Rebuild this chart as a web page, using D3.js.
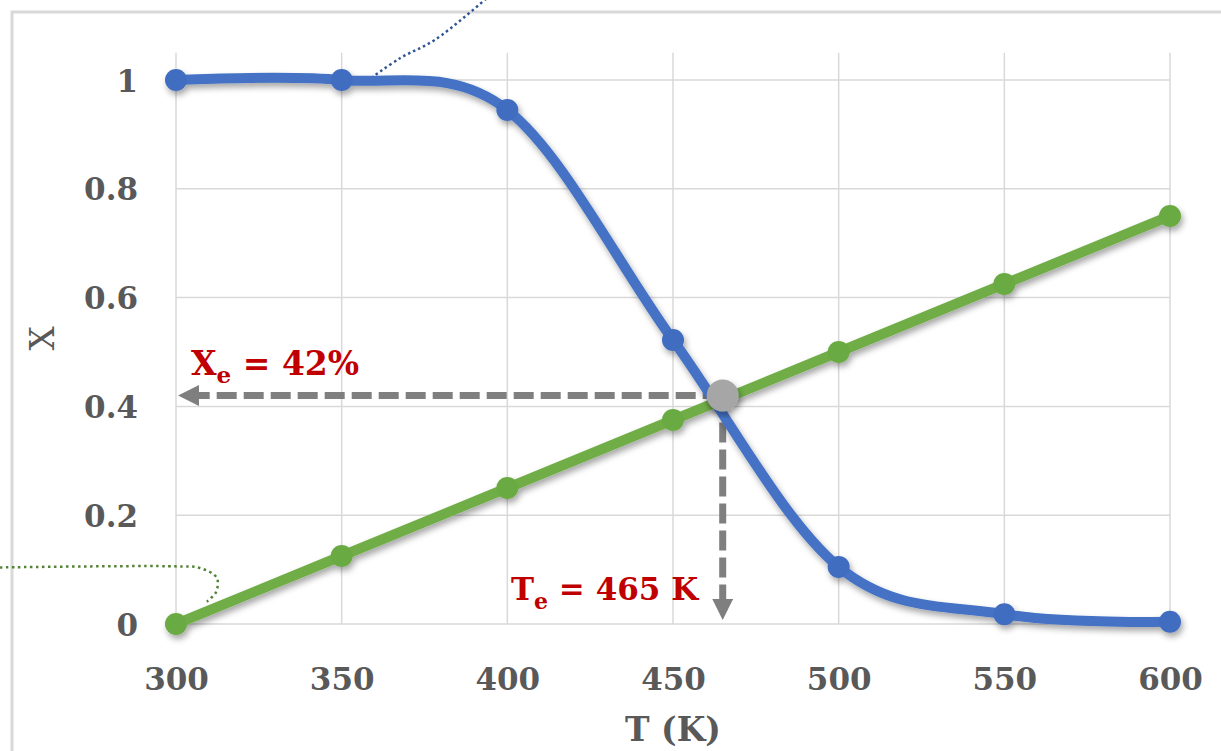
<!DOCTYPE html>
<html>
<head>
<meta charset="utf-8">
<script src="https://cdn.jsdelivr.net/npm/d3@7"></script>
<style>
  html, body { margin: 0; padding: 0; background: #fff; }
  svg { display: block; }
</style>
</head>
<body>
<svg id="chart" width="1221" height="751"></svg>
<script>
// Temperature grid (K)
const temps = [300, 350, 400, 450, 500, 550, 600];
// Equilibrium conversion (falls with temperature)
const xEquilibrium = [1.0, 1.0, 0.945, 0.522, 0.105, 0.018, 0.004];
// Adiabatic energy-balance conversion (linear in T)
const xEnergyBalance = [0.0, 0.125, 0.25, 0.375, 0.5, 0.625, 0.75];
// Axis ticks
const xTicks = [300, 350, 400, 450, 500, 550, 600];
const yTicks = [0, 0.2, 0.4, 0.6, 0.8, 1];
// Operating point where the two curves meet
const tEq = 465;
const xEq = 0.42;
// Leader lines for callouts (T, X)
const leaderBlue = [[357.6, 0.998], [367.6, 1.040], [378.2, 1.074], [393.9, 1.151]];
const leaderGreen = [[246.9, 0.104], [299.7, 0.106], [307.2, 0.103], [312.3, 0.085], [312.1, 0.059], [309.3, 0.041]];

const svg = d3.select("#chart");
const W = 1221, H = 751;

const x = d3.scaleLinear().domain([300, 600]).range([176, 1170]);
const y = d3.scaleLinear().domain([0, 1.05]).range([624, 624 - 544 * 1.05]);

const defs = svg.append("defs");
const shadow = defs.append("filter").attr("id", "shadow")
  .attr("x", "-20%").attr("y", "-20%").attr("width", "140%").attr("height", "140%");
shadow.append("feDropShadow").attr("dx", 2).attr("dy", 4)
  .attr("stdDeviation", 3).attr("flood-color", "#000").attr("flood-opacity", 0.35);

const arrow = defs.append("marker").attr("id", "arrowHead")
  .attr("viewBox", "0 0 10 10").attr("refX", 1).attr("refY", 5)
  .attr("markerUnits", "userSpaceOnUse")
  .attr("markerWidth", 21).attr("markerHeight", 21)
  .attr("orient", "auto");
arrow.append("path").attr("d", "M0,0 L10,5 L0,10 Z").attr("fill", "#7f7f7f");

// chart-area frame
svg.append("rect").attr("x", 12).attr("y", 12).attr("width", W).attr("height", H)
  .attr("fill", "none").attr("stroke", "#d9d9d9").attr("stroke-width", 3);

// gridlines
const grid = svg.append("g").attr("stroke", "#d9d9d9").attr("stroke-width", 1.5);
grid.selectAll("line.h").data(yTicks).join("line").attr("class", "h")
  .attr("x1", x(300)).attr("x2", x(600))
  .attr("y1", d => y(d)).attr("y2", d => y(d));
grid.selectAll("line.v").data(xTicks).join("line").attr("class", "v")
  .attr("x1", d => x(d)).attr("x2", d => x(d))
  .attr("y1", y(0)).attr("y2", y(1.05));

// axes (labels only)
const font = "'DejaVu Serif', serif";
const xAxis = svg.append("g").attr("transform", `translate(0,${y(0)})`)
  .call(d3.axisBottom(x).tickValues(xTicks).tickSize(0).tickPadding(0).tickFormat(d3.format("d")));
xAxis.select(".domain").remove();
xAxis.selectAll("text").attr("dy", null).attr("y", 66)
  .attr("font-family", font).attr("font-size", 31).attr("font-weight", "bold").attr("fill", "#595959");

const yAxis = svg.append("g").attr("transform", `translate(138,0)`)
  .call(d3.axisLeft(y).tickValues(yTicks).tickSize(0).tickPadding(0).tickFormat(d3.format("~g")));
yAxis.select(".domain").remove();
yAxis.selectAll("text").attr("dy", "0.36em")
  .attr("font-family", font).attr("font-size", 31).attr("font-weight", "bold").attr("fill", "#595959");

svg.append("text").attr("x", x(450)).attr("y", 741).attr("text-anchor", "middle")
  .attr("font-family", font).attr("font-size", 33).attr("font-weight", "bold").attr("fill", "#595959")
  .text("T (K)");
svg.append("text").attr("transform", `translate(54,${y(0.525)}) rotate(-90)`).attr("text-anchor", "middle")
  .attr("font-family", font).attr("font-size", 34).attr("fill", "#595959")
  .text("X");

// leader lines
const leader = d3.line().x(d => x(d[0])).y(d => y(d[1])).curve(d3.curveCatmullRom);
svg.append("path").attr("d", leader(leaderBlue)).attr("fill", "none")
  .attr("stroke", "#2f5597").attr("stroke-width", 2.5).attr("stroke-dasharray", "2.5,3");
svg.append("path").attr("d", leader(leaderGreen)).attr("fill", "none")
  .attr("stroke", "#548235").attr("stroke-width", 2.5).attr("stroke-dasharray", "2.5,3.5");

// dashed guides from the operating point
const guides = svg.append("g").attr("stroke", "#7f7f7f").attr("stroke-width", 7)
  .attr("stroke-dasharray", "20,7").attr("fill", "none");
guides.append("line").attr("x1", x(tEq)).attr("y1", y(xEq)).attr("x2", x(300) + 21).attr("y2", y(xEq))
  .attr("marker-end", "url(#arrowHead)");
guides.append("line").attr("x1", x(tEq)).attr("y1", y(xEq)).attr("x2", x(tEq)).attr("y2", y(0) - 23)
  .attr("marker-end", "url(#arrowHead)");

// series
const green = d3.line().x((d, i) => x(temps[i])).y(d => y(d));
const blue = d3.line().x((d, i) => x(temps[i])).y(d => y(d)).curve(d3.curveCardinal.tension(0));

const gGreen = svg.append("g").attr("filter", "url(#shadow)");
gGreen.append("path").attr("d", green(xEnergyBalance)).attr("fill", "none")
  .attr("stroke", "#70ad47").attr("stroke-width", 10).attr("stroke-linejoin", "round");
gGreen.selectAll("circle").data(xEnergyBalance).join("circle")
  .attr("cx", (d, i) => x(temps[i])).attr("cy", d => y(d)).attr("r", 11).attr("fill", "#6aaa42");

const gBlue = svg.append("g").attr("filter", "url(#shadow)");
gBlue.append("path").attr("d", blue(xEquilibrium)).attr("fill", "none")
  .attr("stroke", "#4472c4").attr("stroke-width", 10).attr("stroke-linejoin", "round");
gBlue.selectAll("circle").data(xEquilibrium).join("circle")
  .attr("cx", (d, i) => x(temps[i])).attr("cy", d => y(d)).attr("r", 11).attr("fill", "#416dc0");

svg.append("circle").attr("cx", x(tEq)).attr("cy", y(xEq)).attr("r", 16)
  .attr("fill", "#a6a6a6").attr("filter", "url(#shadow)");

// value labels
const red = "#c00000";
const lblX = svg.append("text").attr("x", 191).attr("y", 375)
  .attr("font-family", font).attr("font-size", 33).attr("font-weight", "bold").attr("fill", red);
lblX.append("tspan").text("X");
lblX.append("tspan").attr("font-size", 23).attr("dy", 8).text("e");
lblX.append("tspan").attr("dy", -8).text(` = ${Math.round(xEq * 100)}%`);

const lblT = svg.append("text").attr("x", 511).attr("y", 600)
  .attr("font-family", font).attr("font-size", 31).attr("font-weight", "bold").attr("fill", red);
lblT.append("tspan").text("T");
lblT.append("tspan").attr("font-size", 22).attr("dy", 9).text("e");
lblT.append("tspan").attr("dy", -9).text(` = ${tEq} K`);
</script>
</body>
</html>
